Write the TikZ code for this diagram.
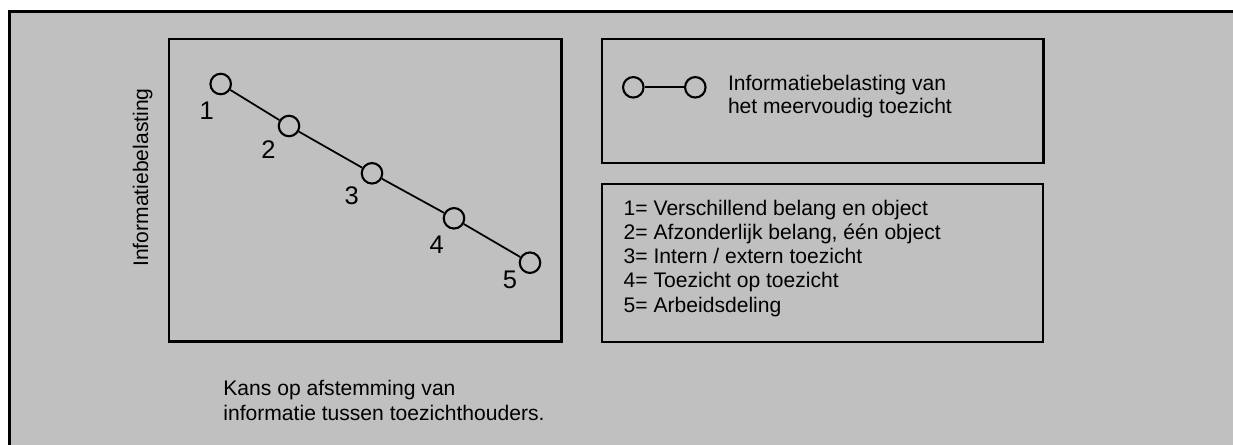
\documentclass[tikz,border=0pt]{standalone}
\usepackage{fontspec}
\setmainfont{Liberation Sans}
\definecolor{grijs}{HTML}{C0C0C0}
\begin{document}
\begin{tikzpicture}[
    kader/.style={draw, line width=.65pt},
    punt/.style={draw, circle, line width=.6pt, inner sep=0pt, minimum size=.205cm},
    tekst/.style={inner sep=0pt, align=left},
    nummer/.style={inner sep=0pt, font=\fontsize{7.25}{8}\selectfont}
  ]
  \fill[white] (0,0) rectangle (12.33,4.44);
  \clip (0,0) rectangle (12.33,4.44);
  \draw[fill=grijs, line width=.8pt] (.097,4.327) rectangle (12.6,-.2);

  % grafiek
  \draw[kader] (1.693,4.047) rectangle (5.615,1.025);
  \node[tekst, rotate=90, font=\fontsize{6}{7}\selectfont] (as) at (1.427,2.665) {Informatiebelasting};
  \node[punt] (p1) at (2.207,3.60) {};
  \node[punt] (p2) at (2.89,3.18) {};
  \node[punt] (p3) at (3.72,2.707) {};
  \node[punt] (p4) at (4.54,2.257) {};
  \node[punt] (p5) at (5.30,1.813) {};
  \draw[line width=.5pt] (p1) -- (p2) -- (p3) -- (p4) -- (p5);
  \node[nummer] (n1) at (2.067,3.335) {1};
  \node[nummer] (n2) at (2.685,2.94) {2};
  \node[nummer] (n3) at (3.517,2.485) {3};
  \node[nummer] (n4) at (4.367,1.995) {4};
  \node[nummer] (n5) at (5.10,1.64) {5};
  \node[tekst, anchor=north west, font=\fontsize{6}{7.11}\selectfont] (as2) at (2.227,.64)
    {Kans op afstemming van\\informatie tussen toezichthouders.};

  % legenda
  \draw[kader] (6.023,4.047) rectangle (10.435,2.813);
  \node[punt] (k1) at (6.333,3.567) {};
  \node[punt] (k2) at (6.953,3.567) {};
  \draw[line width=.5pt] (k1) -- (k2);
  \node[tekst, anchor=north west, font=\fontsize{6}{6.46}\selectfont] (kt) at (7.273,3.693)
    {Informatiebelasting van\\het meervoudig toezicht};

  \draw[kader] (6.023,2.60) rectangle (10.433,1.017);
  \node[tekst, anchor=north west, font=\fontsize{6}{6.88}\selectfont] (lijst) at (6.23,2.447)
    {1= Verschillend belang en object\\
     2= Afzonderlijk belang, één object\\
     3= Intern / extern toezicht\\
     4= Toezicht op toezicht\\
     5= Arbeidsdeling};
\end{tikzpicture}
\end{document}
